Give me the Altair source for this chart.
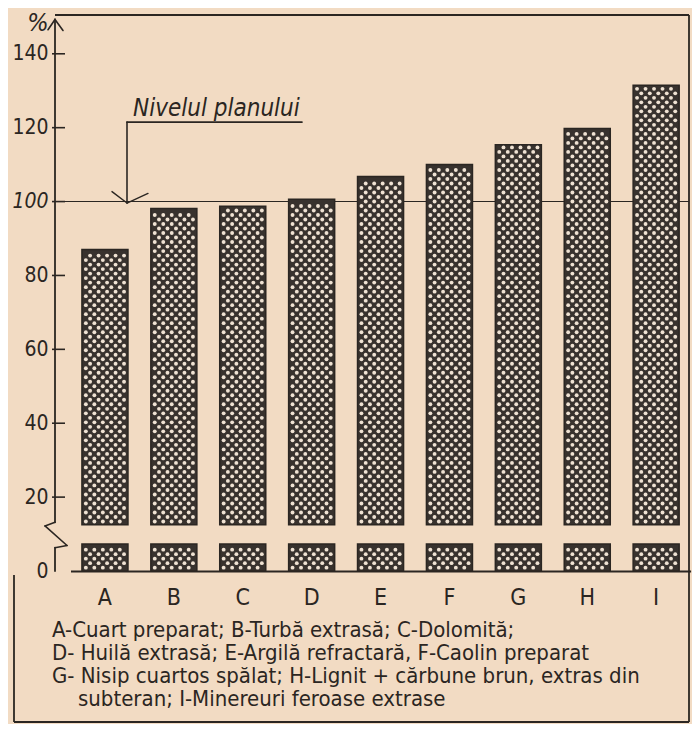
import altair as alt
import pandas as pd

# ---- data ----
categories = ["A", "B", "C", "D", "E", "F", "G", "H", "I"]
values = [87.0, 98.1, 98.7, 100.6, 106.8, 110.0, 115.4, 119.8, 131.5]
y_ticks = [0, 20, 40, 60, 80, 100, 120, 140]
plan_level = 100
break_low, break_high = 7.3, 12.5
legend_lines = [
    "A-Cuart preparat; B-Turbă extrasă; C-Dolomită;",
    "D- Huilă extrasă; E-Argilă refractară, F-Caolin preparat",
    "G- Nisip cuartos spălat; H-Lignit + cărbune brun, extras din",
    "subteran; I-Minereuri feroase extrase",
]
annotation = "Nivelul planului"

PAPER = "#f2dbc3"
INK = "#2b2622"
BAR = "#38322e"
DOT = "#efe2d3"
FONT = "DejaVu Sans Condensed"

W, H = 634, 556
YMAX = 150.5

df = pd.DataFrame({"cat": categories, "value": values})
df["low0"] = 0.0
df["low1"] = break_low
df["high0"] = break_high

# dotted texture of the printed bars (derived from the bar values)
DOT_STEP = 1.22
rows = []
for cat, v in zip(categories, values):
    for lo, hi in ((break_high, v), (0.0, break_low)):
        r = 0
        y = lo + 0.9
        while y <= hi - 0.7:
            for j in range(5):
                rows.append({"cat": cat, "k": (r % 2) + 2 * j, "y": y})
            r += 1
            y += DOT_STEP
dots_df = pd.DataFrame(rows)

yscale = alt.Scale(domain=[0, YMAX], nice=False, zero=False)
xscale = alt.Scale(domain=categories, range=[15.5, 635.6], paddingInner=0.332, paddingOuter=0.166)

one = pd.DataFrame({"k": [0]})


def seg(x1, x2, y1, y2, width=1.6):
    """decorative line segment: x in pixels, y in data units"""
    return alt.Chart(one).mark_rule(color=INK, strokeWidth=width, strokeCap="round").encode(
        x=alt.value(x1), x2=alt.value(x2),
        y=alt.Y(datum=y1, type="quantitative", scale=yscale), y2=alt.Y2(datum=y2),
    )


def pseg(x1, x2, y1, y2, width=1.6):
    """decorative frame segment in pixels"""
    return alt.Chart(one).mark_rule(color=INK, strokeWidth=width).encode(
        x=alt.value(x1), x2=alt.value(x2), y=alt.value(y1), y2=alt.value(y2)
    )


plan = alt.Chart(one).mark_rule(color=INK, strokeWidth=1.1).encode(
    x=alt.value(0), x2=alt.value(W),
    y=alt.Y(datum=plan_level, type="quantitative", scale=yscale),
)

xenc = alt.X(
    "cat:N", scale=xscale, sort=categories, title=None,
    axis=alt.Axis(labelAngle=0, ticks=False, domain=True, domainColor=INK, domainWidth=1.8,
                  labelFont=FONT, labelFontSize=23, labelColor=INK, labelPadding=15),
)

bars_high = alt.Chart(df).mark_bar(color=BAR, stroke=INK, strokeWidth=1.5).encode(
    x=xenc,
    y=alt.Y("high0:Q", scale=yscale, title=None,
            axis=alt.Axis(values=y_ticks, ticks=False, domain=False, grid=False,
                          labelFont=FONT, labelFontSize=21, labelColor=INK, labelPadding=7,
                          labelFontStyle={"condition": {"test": "datum.value == 100", "value": "italic"},
                                          "value": "normal"})),
    y2="value:Q",
)
bars_low = alt.Chart(df).mark_bar(color=BAR, stroke=INK, strokeWidth=1.5).encode(
    x=alt.X("cat:N", scale=xscale, sort=categories),
    y=alt.Y("low0:Q", scale=yscale),
    y2="low1:Q",
)

# one dot layer per horizontal slot inside the band
dot_layers = []
for k in range(10):
    sub = dots_df[dots_df["k"] == k]
    dot_layers.append(
        alt.Chart(sub).mark_circle(color=DOT, opacity=1, size=15).encode(
            x=alt.X("cat:N", scale=xscale, sort=categories, bandPosition=0.085 + k * 0.0922),
            y=alt.Y("y:Q", scale=yscale),
        )
    )

tick_df = pd.DataFrame({"t": [t for t in y_ticks if t > 0]})
ticks = alt.Chart(tick_df).mark_rule(color=INK, strokeWidth=1.6).encode(
    x=alt.value(-3), x2=alt.value(10), y=alt.Y("t:Q", scale=yscale)
)

axis_parts = [
    seg(0, 0, 13.2, 149.3, 1.8),
    seg(0, -10, 13.2, 12.2, 1.6),
    seg(-10, 12, 12.2, 6.9, 1.6),
    seg(12, 0, 6.9, 6.3, 1.6),
    seg(0, 0, 6.3, 0, 1.8),
    seg(0, -7, 149.3, 146.5, 1.6),
    seg(0, 8, 149.3, 146.3, 1.6),
]

ann_parts = [
    seg(72, 247, 121.5, 121.5, 1.6),
    seg(72, 72, 121.5, 99.6, 1.6),
    seg(57, 72, 102.7, 99.6, 1.4),
    seg(93, 72, 102.2, 99.6, 1.4),
]
ann_text = alt.Chart(one).mark_text(
    text=annotation, font=FONT, fontSize=24, fontStyle="italic", color=INK,
    align="left", baseline="alphabetic",
).encode(x=alt.value(78), y=alt.value(101))

pct = alt.Chart(one).mark_text(
    text="%", font=FONT, fontSize=25, fontStyle="italic", color=INK, align="center", baseline="middle"
).encode(x=alt.value(-17), y=alt.value(8))

frame = [
    pseg(0, W, 0, 0, 1.8),
    pseg(W, W, 0, 707, 1.8),
    pseg(-41, W, 707, 707, 1.8),
    pseg(-41, -41, 560, 707, 1.8),
]

legend_x = [-3, -3, -3, 23]
legend_y = [615, 638, 661, 684]
legend_texts = [
    alt.Chart(one).mark_text(
        text=legend_lines[i], font=FONT, fontSize=22, color=INK,
        align="left", baseline="middle",
    ).encode(x=alt.value(legend_x[i]), y=alt.value(legend_y[i]))
    for i in range(len(legend_lines))
]

chart = alt.layer(
    plan, bars_high, bars_low, *dot_layers, ticks, *axis_parts, *ann_parts, ann_text, pct,
    *frame, *legend_texts,
).properties(
    width=W, height=H,
    autosize=alt.AutoSizeParams(type="none"),
    padding={"left": 47, "top": 7, "right": 3, "bottom": 153},
    background=PAPER,
).configure_view(stroke=None)

chart.save("out.html", embed_options={"renderer": "svg", "actions": False})
